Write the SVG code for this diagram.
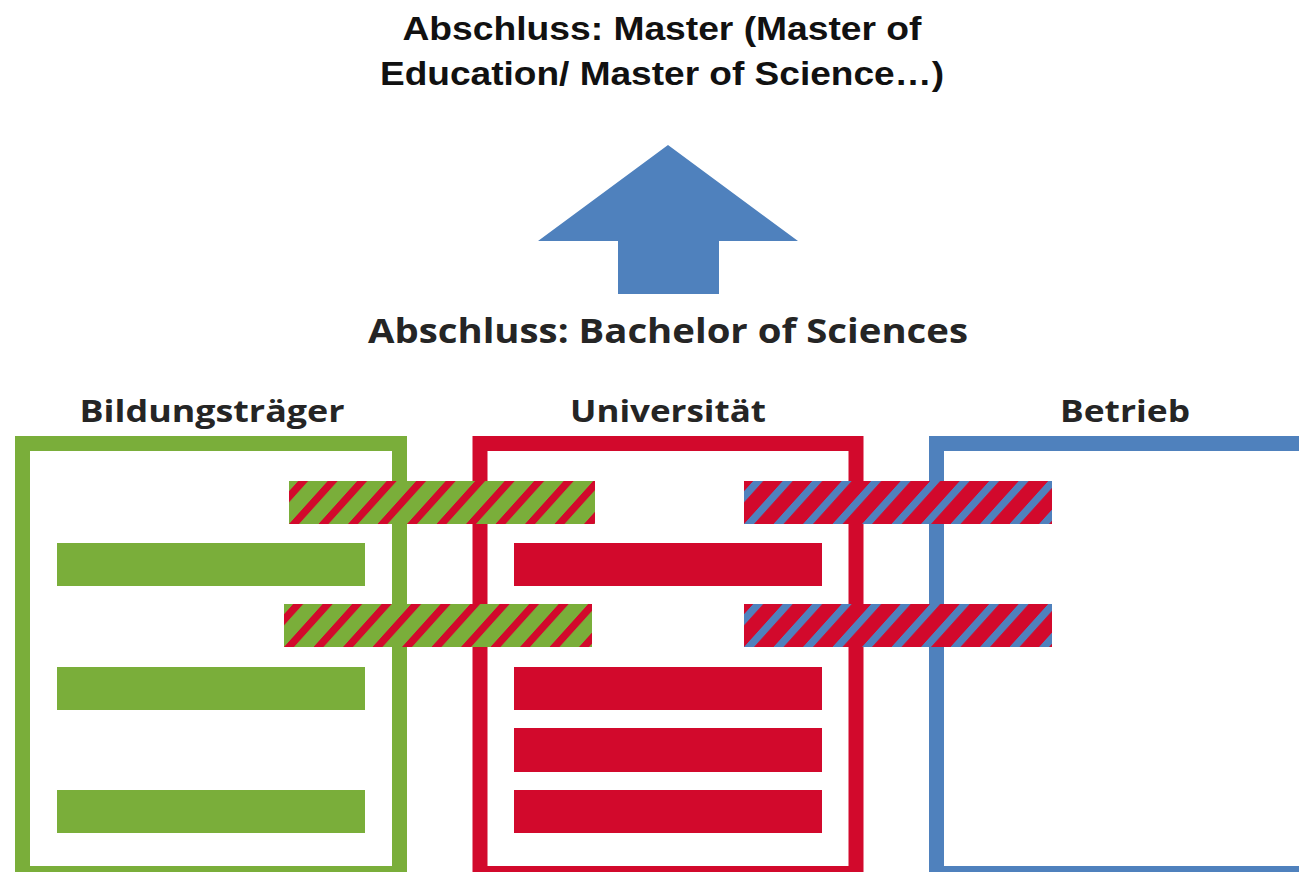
<svg xmlns="http://www.w3.org/2000/svg" width="1299" height="872" viewBox="0 0 1299 872">
  <style>
    .title { font-family: "Liberation Sans", Arial, sans-serif; font-weight: bold; font-size: 34px; fill: #111111; text-anchor: middle; }
    .label { font-family: "Open Sans", "Noto Sans", sans-serif; font-weight: bold; fill: #252525; text-anchor: middle; }
    .green { fill: #7aae3a; }
    .red { fill: #d2092c; }
    .frame { fill: none; stroke-width: 15; }
  </style>
  <defs>
    <pattern id="gr1" patternUnits="userSpaceOnUse" width="29.5" height="10" patternTransform="translate(289,524) skewX(-42)">
      <rect x="0" y="0" width="29.5" height="10" fill="#7aae3a"/>
      <rect x="0" y="0" width="10" height="10" fill="#d2092c"/>
    </pattern>
    <pattern id="gr2" patternUnits="userSpaceOnUse" width="29.5" height="10" patternTransform="translate(284,647) skewX(-42)">
      <rect x="0" y="0" width="29.5" height="10" fill="#7aae3a"/>
      <rect x="0" y="0" width="10" height="10" fill="#d2092c"/>
    </pattern>
    <pattern id="rb1" patternUnits="userSpaceOnUse" width="29.5" height="10" patternTransform="translate(744,524) skewX(-42)">
      <rect x="0" y="0" width="29.5" height="10" fill="#d2092c"/>
      <rect x="0" y="0" width="10" height="10" fill="#4f81bd"/>
    </pattern>
    <pattern id="rb2" patternUnits="userSpaceOnUse" width="29.5" height="10" patternTransform="translate(744,647) skewX(-42)">
      <rect x="0" y="0" width="29.5" height="10" fill="#d2092c"/>
      <rect x="0" y="0" width="10" height="10" fill="#4f81bd"/>
    </pattern>
  </defs>
  <rect width="1299" height="872" fill="#ffffff"/>

  <g id="master">
    <text class="title" x="662" y="40" textLength="519" lengthAdjust="spacingAndGlyphs">Abschluss: Master (Master of</text>
    <text class="title" x="662" y="85" textLength="564" lengthAdjust="spacingAndGlyphs">Education/ Master of Science…)</text>
  </g>

  <g id="connectors">
    <polygon points="668,145 798,241 719,241 719,294 618,294 618,241 538,241" fill="#4f81bd"/>
  </g>

  <g id="bachelor">
    <text class="label" x="668" y="343" font-size="34" textLength="600" lengthAdjust="spacingAndGlyphs">Abschluss: Bachelor of Sciences</text>
  </g>

  <g id="bildungstraeger">
    <text class="label" x="212" y="422" font-size="31" textLength="265" lengthAdjust="spacingAndGlyphs">Bildungsträger</text>
    <rect class="frame" x="22.5" y="443.5" width="377" height="430" stroke="#7aae3a"/>
    <rect class="green" x="57" y="543" width="308" height="43"/>
    <rect class="green" x="57" y="667" width="308" height="43"/>
    <rect class="green" x="57" y="790" width="308" height="43"/>
  </g>

  <g id="universitaet">
    <text class="label" x="668" y="422" font-size="31" textLength="196" lengthAdjust="spacingAndGlyphs">Universität</text>
    <rect class="frame" x="480" y="443.5" width="376" height="430" stroke="#d2092c"/>
    <rect class="red" x="514" y="543" width="308" height="43"/>
    <rect class="red" x="514" y="667" width="308" height="43"/>
    <rect class="red" x="514" y="728" width="308" height="44"/>
    <rect class="red" x="514" y="790" width="308" height="43"/>
  </g>

  <g id="betrieb">
    <text class="label" x="1125" y="422" font-size="31" textLength="130" lengthAdjust="spacingAndGlyphs">Betrieb</text>
    <rect class="frame" x="936.5" y="443.5" width="400" height="430" stroke="#4f81bd"/>
  </g>

  <g id="overlaps">
    <rect x="289" y="481" width="306" height="43" fill="url(#gr1)"/>
    <rect x="284" y="604" width="308" height="43" fill="url(#gr2)"/>
    <rect x="744" y="481" width="308" height="43" fill="url(#rb1)"/>
    <rect x="744" y="604" width="308" height="43" fill="url(#rb2)"/>
  </g>
</svg>
